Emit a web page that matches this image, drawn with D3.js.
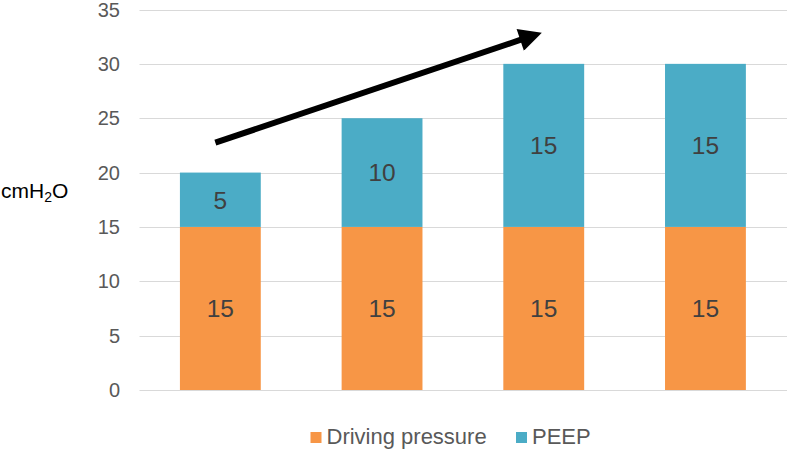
<!DOCTYPE html>
<html>
<head>
<meta charset="utf-8">
<script src="https://cdn.jsdelivr.net/npm/d3@7/dist/d3.min.js"></script>
<style>
  html, body { margin: 0; padding: 0; background: #fff; }
  svg { display: block; font-family: Arial, "Liberation Sans", sans-serif; }
</style>
</head>
<body>
<svg id="chart" width="787" height="450"></svg>
<script>
// ---- data ----
const categories = ["1", "2", "3", "4"];
const drivingPressure = [15, 15, 15, 15];
const peep = [5, 10, 15, 15];
const seriesNames = ["Driving pressure", "PEEP"];
const seriesColors = ["#F79646", "#4BACC6"];
const yTicks = [0, 5, 10, 15, 20, 25, 30, 35];
const yLabel = "cmH";
const yLabelSub = "2";
const yLabelTail = "O";
// arrow annotation: from category 0 (value 22.75) to category 2 (value 32.9)
const arrowFrom = { cat: 0, value: 22.75, dx: -5 };
const arrowTo = { cat: 2, value: 32.9, dx: -1 };

// ---- layout ----
const svg = d3.select("#chart");
const plot = { left: 139.5, right: 786.3, top: 9.5, bottom: 390 };

const x = d3.scaleBand()
  .domain(categories)
  .range([plot.left, plot.right])
  .paddingInner(0.5)
  .paddingOuter(0.25);

const y = d3.scaleLinear()
  .domain([0, 35])
  .range([plot.bottom, plot.top]);

// gridlines
svg.append("g")
  .selectAll("line")
  .data(yTicks)
  .join("line")
  .attr("x1", plot.left)
  .attr("x2", 787)
  .attr("y1", d => Math.round(y(d)) + 0.5)
  .attr("y2", d => Math.round(y(d)) + 0.5)
  .attr("stroke", "#D9D9D9")
  .attr("stroke-width", 1.2);

// y tick labels
svg.append("g")
  .selectAll("text")
  .data(yTicks)
  .join("text")
  .attr("x", 120)
  .attr("y", d => y(d))
  .attr("dy", "0.35em")
  .attr("text-anchor", "end")
  .attr("font-size", 20)
  .attr("fill", "#595959")
  .text(d => d);

// stacked data
const rows = categories.map((c, i) => ({ cat: c, dp: drivingPressure[i], peep: peep[i] }));
const stack = d3.stack().keys(["dp", "peep"])(rows);

const layers = svg.append("g")
  .selectAll("g")
  .data(stack)
  .join("g")
  .attr("fill", (d, i) => seriesColors[i]);

layers.selectAll("rect")
  .data(d => d)
  .join("rect")
  .attr("x", d => x(d.data.cat))
  .attr("width", x.bandwidth())
  .attr("y", d => y(d[1]))
  .attr("height", d => y(d[0]) - y(d[1]));

// value labels
layers.selectAll("text")
  .data(d => d)
  .join("text")
  .attr("x", d => x(d.data.cat) + x.bandwidth() / 2)
  .attr("y", d => (y(d[0]) + y(d[1])) / 2)
  .attr("dy", "0.36em")
  .attr("text-anchor", "middle")
  .attr("font-size", 24.5)
  .attr("fill", "#404040")
  .text(d => d[1] - d[0]);

// y axis title
const yt = svg.append("text")
  .attr("x", 1)
  .attr("y", 198)
  .attr("font-size", 21)
  .attr("fill", "#000");
yt.append("tspan").text(yLabel);
yt.append("tspan").attr("font-size", 14).attr("dy", 4).text(yLabelSub);
yt.append("tspan").attr("dy", -4).text(yLabelTail);

// arrow
const defs = svg.append("defs");
defs.append("marker")
  .attr("id", "arrowhead")
  .attr("viewBox", "0 0 10 10")
  .attr("refX", 2)
  .attr("refY", 5)
  .attr("markerWidth", 4)
  .attr("markerHeight", 3.8)
  .attr("markerUnits", "strokeWidth")
  .attr("orient", "auto")
  .append("path")
  .attr("d", "M0,0 L10,5 L0,10 z")
  .attr("fill", "#000");

const ax1 = x(categories[arrowFrom.cat]) + x.bandwidth() / 2 + arrowFrom.dx;
const ay1 = y(arrowFrom.value);
const ax2 = x(categories[arrowTo.cat]) + x.bandwidth() / 2 + arrowTo.dx;
const ay2 = y(arrowTo.value);
// shorten line so the arrowhead tip lands at the end point
const len = Math.hypot(ax2 - ax1, ay2 - ay1);
const headLen = 6 * 4 * 0.8;
const ex = ax2 - (ax2 - ax1) / len * headLen;
const ey = ay2 - (ay2 - ay1) / len * headLen;
svg.append("line")
  .attr("x1", ax1).attr("y1", ay1)
  .attr("x2", ex).attr("y2", ey)
  .attr("stroke", "#000")
  .attr("stroke-width", 6)
  .attr("marker-end", "url(#arrowhead)");

// legend
const legendItems = [
  { name: seriesNames[0], color: seriesColors[0], x: 310.5, tx: 326.5 },
  { name: seriesNames[1], color: seriesColors[1], x: 516, tx: 532 }
];
const lg = svg.append("g");
lg.selectAll("rect")
  .data(legendItems)
  .join("rect")
  .attr("x", d => d.x)
  .attr("y", 432)
  .attr("width", 11)
  .attr("height", 11)
  .attr("fill", d => d.color);
lg.selectAll("text")
  .data(legendItems)
  .join("text")
  .attr("x", d => d.tx)
  .attr("y", 444)
  .attr("font-size", 22)
  .attr("fill", "#595959")
  .text(d => d.name);
</script>
</body>
</html>
